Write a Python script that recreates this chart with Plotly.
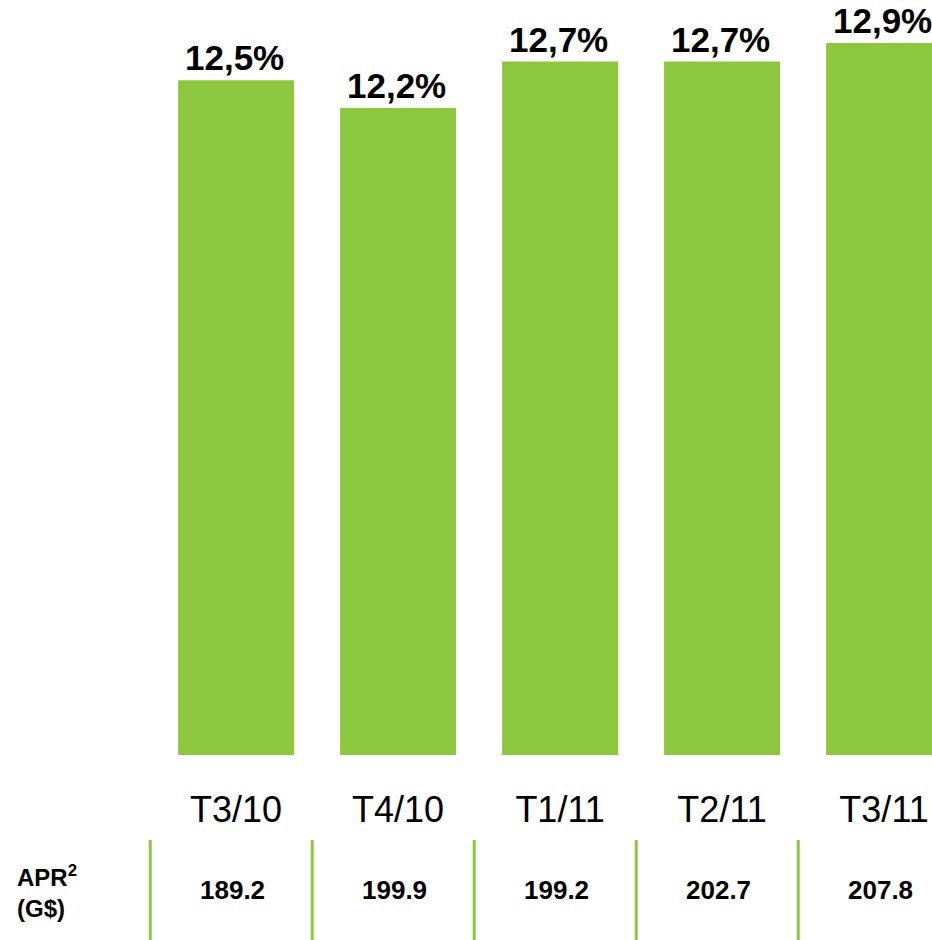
import plotly.graph_objects as go

categories = ["T3/10", "T4/10", "T1/11", "T2/11", "T3/11"]
ratios = [12.5, 12.2, 12.7, 12.7, 12.9]
ratio_labels = ["12,5%", "12,2%", "12,7%", "12,7%", "12,9%"]
apr_values = ["189.2", "199.9", "199.2", "202.7", "207.8"]

GREEN = "#8DC63F"
FONT = "Arial, Liberation Sans, sans-serif"

W, H = 932, 940
ML, MT, MB = 147, 0, 185
PH = H - MT - MB

def py(px):
    # pixel y (from top) -> paper y
    return (H - MB - px) / PH

fig = go.Figure()
fig.add_trace(go.Bar(
    x=categories, y=ratios,
    marker=dict(color=GREEN, line=dict(width=0)),
    width=0.716,
    hoverinfo="skip",
))

for c, v, t in zip(categories, ratios, ratio_labels):
    fig.add_annotation(x=c, y=v, xref="x", yref="y", text="<b>%s</b>" % t,
                       showarrow=False, yanchor="bottom", yshift=1, xshift=-2,
                       font=dict(family=FONT, size=35, color="#000000"))

for c, a in zip(categories, apr_values):
    fig.add_annotation(x=c, y=py(890), xref="x", yref="paper", text="<b>%s</b>" % a,
                       showarrow=False, yanchor="middle", xshift=-4,
                       font=dict(family=FONT, size=26, color="#000000"))

fig.add_annotation(x=(15 - ML) / (W - ML), y=py(891), xref="paper", yref="paper",
                   text="<b>APR<sup>2</sup><br>(G$)</b>", showarrow=False,
                   xanchor="left", yanchor="middle", align="left",
                   font=dict(family=FONT, size=24, color="#000000"))

for i in range(len(categories)):
    fig.add_shape(type="line", xref="x", yref="paper",
                  x0=i - 0.5 - 0.03, x1=i - 0.5 - 0.03, y0=py(840), y1=py(940),
                  line=dict(color=GREEN, width=3))

fig.update_layout(
    width=W, height=H,
    margin=dict(l=ML, r=0, t=MT, b=MB),
    paper_bgcolor="white", plot_bgcolor="white",
    showlegend=False,
    xaxis=dict(range=[-0.55, 4.296], showgrid=False, zeroline=False, showline=False,
               ticks="", ticklabelstandoff=30,
               tickfont=dict(family=FONT, size=36, color="#000000")),
    yaxis=dict(range=[5.26, 13.36], visible=False, showgrid=False, zeroline=False),
)

fig.write_html("out.html", config={"displayModeBar": False, "staticPlot": True},
               post_script="document.body.style.margin='0';document.body.style.overflow='hidden';")
